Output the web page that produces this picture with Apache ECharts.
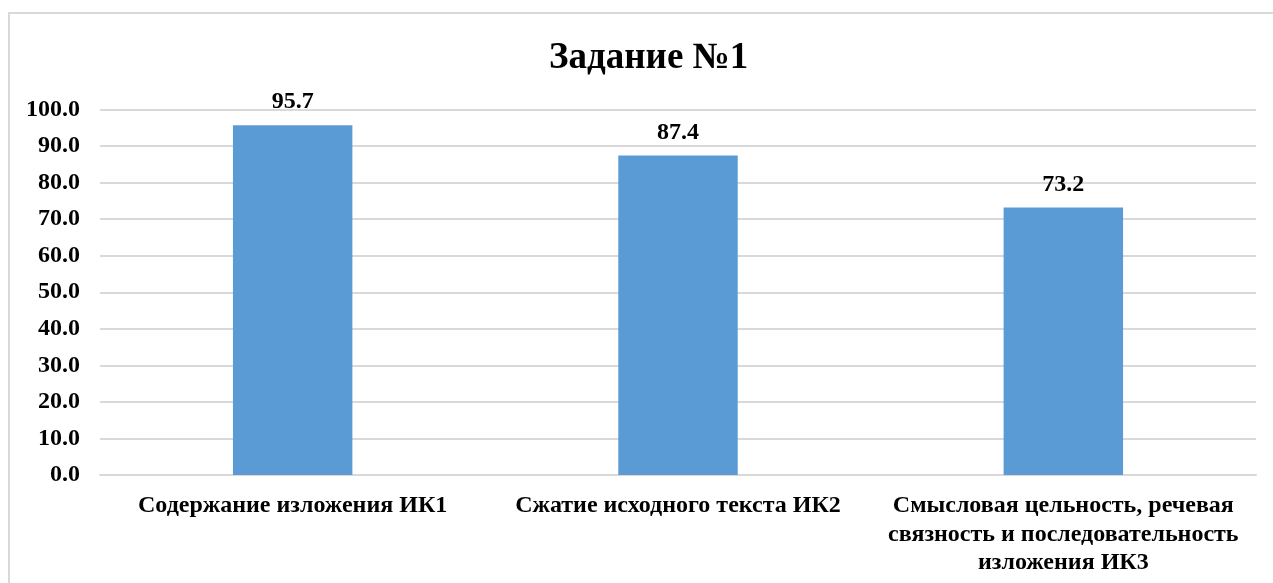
<!DOCTYPE html>
<html><head><meta charset="utf-8">
<script src="https://cdn.jsdelivr.net/npm/echarts@6/dist/echarts.min.js"></script>
<style>html,body{margin:0;padding:0;background:#fff}#c{width:1273px;height:583px}</style>
</head><body><div id="c"></div>
<script>
const titleText = 'Задание №1';
const categories = ['Содержание изложения ИК1', 'Сжатие исходного текста ИК2', 'Смысловая цельность, речевая\nсвязность и последовательность\nизложения ИК3'];
const values = [95.7, 87.4, 73.2];
const yMin = 0, yMax = 100, yStep = 10;
const font = '"Liberation Serif","Times New Roman",serif';
const chart = echarts.init(document.getElementById('c'));
chart.setOption({
  animation: false,
  backgroundColor: '#fff',
  graphic: [{type:'rect', shape:{x:9, y:13, width:1280, height:600}, style:{fill:'none', stroke:'#d9d9d9', lineWidth:2}}],
  title: {text: titleText, left: 544, top: 35, textStyle: {fontFamily: font, fontWeight: 'bold', fontSize: 37, color: '#000'}},
  grid: {left: 100, right: 17, top: 109.5, bottom: 108, containLabel: false},
  xAxis: {type: 'category', data: categories,
    axisLine: {show: true, lineStyle: {color: '#d9d9d9', width: 2}}, axisTick: {show: false},
    axisLabel: {interval: 0, margin: 17, fontFamily: font, fontWeight: 'bold', fontSize: 24, color: '#000', lineHeight: 28.5}},
  yAxis: {type: 'value', min: yMin, max: yMax, interval: yStep,
    axisLine: {show: false}, axisTick: {show: false},
    splitLine: {lineStyle: {color: '#d9d9d9', width: 2}},
    axisLabel: {margin: 20, fontFamily: font, fontWeight: 'bold', fontSize: 24, color: '#000', formatter: v => v.toFixed(1)}},
  series: [{type: 'bar', data: values, barWidth: '31%', itemStyle: {color: '#5b9bd5'},
    label: {show: true, position: 'top', distance: 11, fontFamily: font, fontWeight: 'bold', fontSize: 24, color: '#000', formatter: p => p.value.toFixed(1)}}]
});
</script></body></html>
